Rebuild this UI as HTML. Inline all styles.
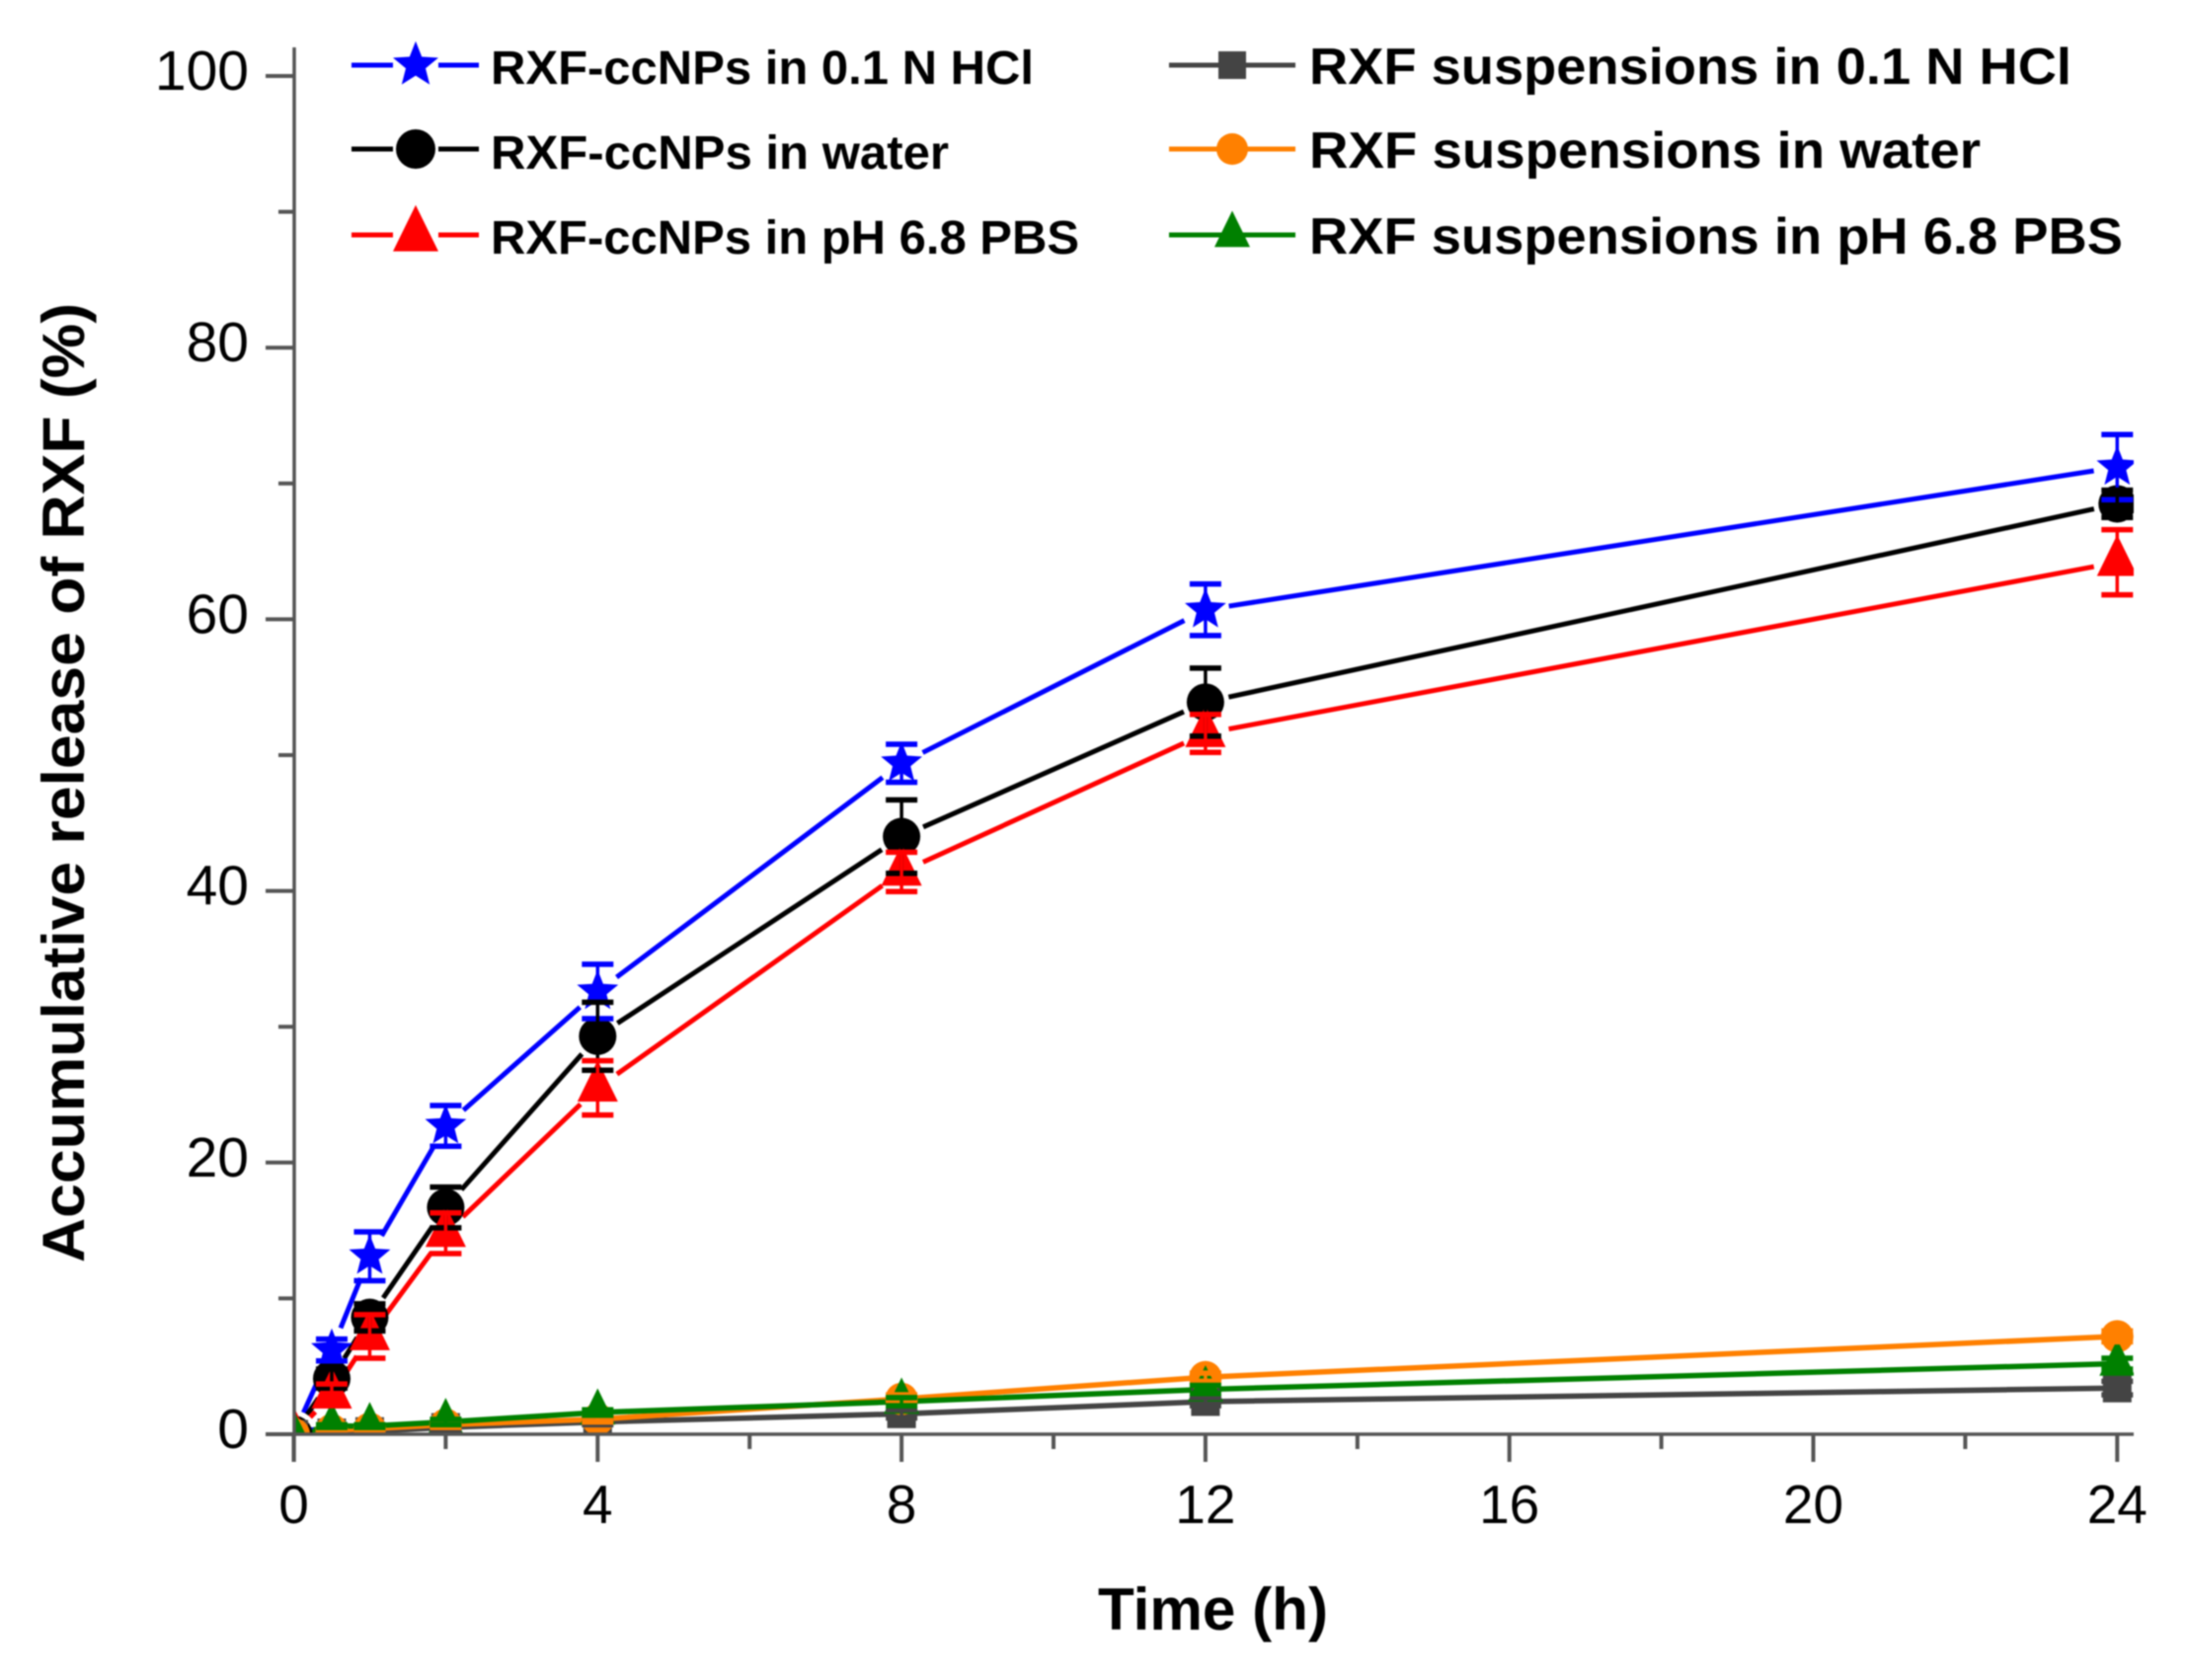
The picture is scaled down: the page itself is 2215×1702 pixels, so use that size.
<!DOCTYPE html>
<html>
<head>
<meta charset="utf-8">
<title>Accumulative release of RXF</title>
<style>
html,body{margin:0;padding:0;background:#fff;width:2215px;height:1702px;overflow:hidden}
svg{display:block;filter:blur(0.7px)}
text{font-family:"Liberation Sans",Arial,sans-serif;fill:#000}
.leg{font-weight:bold}
</style>
</head>
<body>
<svg id="chart" xmlns="http://www.w3.org/2000/svg" width="2215" height="1702" viewBox="0 0 2215 1702">
  <rect x="0" y="0" width="2215" height="1702" fill="#fff"/>
  <defs><clipPath id="plot-clip"><rect x="297" y="30" width="1864" height="1424"/></clipPath></defs>
  <g id="lines" clip-path="url(#plot-clip)"></g>
  <g id="markers" clip-path="url(#plot-clip)"></g>
  <g id="errors" clip-path="url(#plot-clip)"></g>
  <g id="axes"></g>
  <text x="1112" y="1651" font-size="60" font-weight="bold" textLength="233" lengthAdjust="spacingAndGlyphs">Time (h)</text>
  <text transform="translate(85,1279) rotate(-90)" font-size="60" font-weight="bold" textLength="972" lengthAdjust="spacingAndGlyphs">Accumulative release of RXF (%)</text>
  <g>
    <g id="legend-marks"></g>
    <text class="leg" x="497" y="85" font-size="48" textLength="550" lengthAdjust="spacingAndGlyphs">RXF-ccNPs in 0.1 N HCl</text>
    <text class="leg" x="497" y="171" font-size="48" textLength="464" lengthAdjust="spacingAndGlyphs">RXF-ccNPs in water</text>
    <text class="leg" x="497" y="257" font-size="48" textLength="596" lengthAdjust="spacingAndGlyphs">RXF-ccNPs in pH 6.8 PBS</text>
    <text class="leg" x="1326" y="85" font-size="52" textLength="772" lengthAdjust="spacingAndGlyphs">RXF suspensions in 0.1 N HCl</text>
    <text class="leg" x="1326" y="170" font-size="52" textLength="680" lengthAdjust="spacingAndGlyphs">RXF suspensions in water</text>
    <text class="leg" x="1326" y="257" font-size="52" textLength="824" lengthAdjust="spacingAndGlyphs">RXF suspensions in pH 6.8 PBS</text>
  </g>
</svg>
<script>
const times = [0, 0.5, 1, 2, 4, 8, 12, 24];
const ccnpsHcl = [0, 6.2, 13.1, 22.7, 32.6, 49.4, 60.7, 71.2];
const ccnpsHclErr = [0, 0.8, 1.8, 1.5, 2.0, 1.4, 1.9, 2.4];
const ccnpsWater = [0, 4.1, 8.6, 16.7, 29.3, 44.0, 53.9, 68.5];
const ccnpsWaterErr = [0, 0.7, 1.0, 1.5, 2.5, 2.7, 2.5, 1.0];
const ccnpsPbs = [0, 2.9, 7.2, 14.8, 25.5, 41.4, 51.6, 64.2];
const ccnpsPbsErr = [0, 0.8, 1.6, 1.5, 2.0, 1.45, 1.4, 2.4];
const suspHcl = [0, 0.1, 0.2, 0.5, 0.9, 1.5, 2.4, 3.4];
const suspHclErr = [0, 0.1, 0.1, 0.2, 0.2, 0.3, 0.3, 0.5];
const suspWater = [0, 0.3, 0.4, 0.7, 1.1, 2.6, 4.2, 7.2];
const suspWaterErr = [0, 0.1, 0.1, 0.2, 0.2, 0.3, 0.3, 0.4];
const suspPbs = [0, 0.6, 0.6, 0.9, 1.6, 2.4, 3.3, 5.2];
const suspPbsErr = [0, 0.1, 0.1, 0.2, 0.2, 0.3, 0.3, 0.4];
const xMajorTicks = [0, 4, 8, 12, 16, 20, 24];
const xMinorTicks = [2, 6, 10, 14, 18, 22];
const yMajorTicks = [0, 20, 40, 60, 80, 100];
const yMinorTicks = [10, 30, 50, 70, 90];

const NS = 'http://www.w3.org/2000/svg';
const xScale = function (t) { return 297.5 + t * 76.95; };
const yScale = function (v) { return 1453 - v * 13.76; };
function mk(tag, parent, props) {
  const el = document.createElementNS(NS, tag);
  for (const k in props) el.setAttribute(k, props[k]);
  parent.appendChild(el);
  return el;
}
function starPts(cx, cy, R, r) {
  const p = [];
  for (let i = 0; i < 10; i++) {
    const a = -Math.PI / 2 + i * Math.PI / 5;
    const rad = i % 2 ? r : R;
    p.push((cx + rad * Math.cos(a)).toFixed(1) + ',' + (cy + rad * Math.sin(a)).toFixed(1));
  }
  return p.join(' ');
}
function drawMarker(parent, kind, cx, cy, size, color, name) {
  let el;
  if (kind === 'star') {
    el = mk('polygon', parent, { points: starPts(cx, cy, size * 0.55, size * 0.24), fill: color });
  } else if (kind === 'circle') {
    el = mk('ellipse', parent, { cx: cx, cy: cy, rx: size / 2, ry: size / 2, fill: color });
  } else if (kind === 'square') {
    el = mk('rect', parent, { x: cx - size / 2, y: cy - size / 2, width: size, height: size, fill: color });
  } else {
    const h = size * 1.02;
    el = mk('polygon', parent, {
      points: cx + ',' + (cy - h * 2 / 3) + ' ' + (cx - size / 2) + ',' + (cy + h / 3) + ' ' + (cx + size / 2) + ',' + (cy + h / 3),
      fill: color
    });
  }
  
  
}

const seriesList = [
  { id: 'ccnps-hcl', vals: ccnpsHcl, errs: ccnpsHclErr, color: '#0000ff', kind: 'star', size: 40, gap: 24, width: 5 },
  { id: 'ccnps-water', vals: ccnpsWater, errs: ccnpsWaterErr, color: '#000000', kind: 'circle', size: 38, gap: 24, width: 5 },
  { id: 'ccnps-pbs', vals: ccnpsPbs, errs: ccnpsPbsErr, color: '#ff0000', kind: 'triangle', size: 41, gap: 24, width: 5 },
  { id: 'suspension-hcl', vals: suspHcl, errs: suspHclErr, color: '#444444', kind: 'square', size: 29, gap: 0, width: 5.5 },
  { id: 'suspension-water', vals: suspWater, errs: suspWaterErr, color: '#ff8000', kind: 'circle', size: 33, gap: 0, width: 5.5 },
  { id: 'suspension-pbs', vals: suspPbs, errs: suspPbsErr, color: '#008000', kind: 'triangle', size: 36, gap: 0, width: 5.5 }
];

const linesG = document.getElementById('lines');
const markersG = document.getElementById('markers');
const errorsG = document.getElementById('errors');

seriesList.forEach(function (s) {
  for (let i = 0; i < times.length - 1; i++) {
    const x1 = xScale(times[i]), y1 = yScale(s.vals[i]);
    const x2 = xScale(times[i + 1]), y2 = yScale(s.vals[i + 1]);
    const len = Math.hypot(x2 - x1, y2 - y1);
    if (len <= s.gap * 2) continue;
    const ux = (x2 - x1) / len, uy = (y2 - y1) / len;
    const seg = mk('line', linesG, {
      x1: x1 + ux * s.gap, y1: y1 + uy * s.gap,
      x2: x2 - ux * s.gap, y2: y2 - uy * s.gap,
      stroke: s.color, 'stroke-width': s.width
    });
    
    
  }
});

seriesList.forEach(function (s) {
  times.forEach(function (t, i) {
    drawMarker(markersG, s.kind, xScale(t), yScale(s.vals[i]), s.size, s.color, 'marker-' + s.id);
  });
});

seriesList.forEach(function (s) {
  times.forEach(function (t, i) {
    if (!s.errs[i]) return;
    const x = xScale(t);
    const top = yScale(s.vals[i] + s.errs[i]);
    const bot = yScale(s.vals[i] - s.errs[i]);
    const g = mk('g', errorsG, { stroke: s.color });
    
    
    mk('line', g, { x1: x, x2: x, y1: top, y2: bot, 'stroke-width': 3.5 });
    mk('line', g, { x1: x - 16, x2: x + 16, y1: top, y2: top, 'stroke-width': 5.5 });
    mk('line', g, { x1: x - 16, x2: x + 16, y1: bot, y2: bot, 'stroke-width': 5.5 });
  });
});

const axesG = document.getElementById('axes');
const axisColor = '#555555';
const yAxisLine = mk('line', axesG, { x1: 298, x2: 298, y1: 48, y2: 1481, stroke: axisColor, 'stroke-width': 3.5 });


const xAxisLine = mk('line', axesG, { x1: 269, x2: 2161, y1: 1453, y2: 1453, stroke: axisColor, 'stroke-width': 3.5 });



xMajorTicks.forEach(function (t) {
  const tick = mk('line', axesG, { x1: xScale(t), x2: xScale(t), y1: 1453, y2: 1481, stroke: axisColor, 'stroke-width': 4 });
  
  
  const lab = mk('text', axesG, { x: xScale(t), y: 1543, 'font-size': 55, 'text-anchor': 'middle' });
  lab.textContent = String(t);
  
  
});
xMinorTicks.forEach(function (t) {
  const tick = mk('line', axesG, { x1: xScale(t), x2: xScale(t), y1: 1453, y2: 1468, stroke: axisColor, 'stroke-width': 4 });
  
  
});
yMajorTicks.forEach(function (v) {
  const tick = mk('line', axesG, { x1: 269, x2: 298, y1: yScale(v), y2: yScale(v), stroke: axisColor, 'stroke-width': 4 });
  
  
  const lab = mk('text', axesG, { x: 252, y: yScale(v) + 14, 'font-size': 57, 'text-anchor': 'end' });
  lab.textContent = String(v);
  
  
});
yMinorTicks.forEach(function (v) {
  const tick = mk('line', axesG, { x1: 282, x2: 298, y1: yScale(v), y2: yScale(v), stroke: axisColor, 'stroke-width': 4 });
  
  
});

const legendG = document.getElementById('legend-marks');
const legendRows = [
  { x1: 356, x2: 485, y: 66, cx: 421, cy: 66, color: '#0000ff', kind: 'star', size: 44, gap: 23 },
  { x1: 356, x2: 485, y: 151, cx: 421, cy: 151, color: '#000000', kind: 'circle', size: 40, gap: 23 },
  { x1: 356, x2: 485, y: 238, cx: 421, cy: 239, color: '#ff0000', kind: 'triangle', size: 46, gap: 23 },
  { x1: 1184, x2: 1312, y: 66, cx: 1248, cy: 66, color: '#444444', kind: 'square', size: 28, gap: 0 },
  { x1: 1184, x2: 1312, y: 151, cx: 1248, cy: 151, color: '#ff8000', kind: 'circle', size: 32, gap: 0 },
  { x1: 1184, x2: 1312, y: 238, cx: 1248, cy: 238, color: '#008000', kind: 'triangle', size: 36, gap: 0 }
];
legendRows.forEach(function (r) {
  if (r.gap) {
    const a = mk('line', legendG, { x1: r.x1, x2: r.cx - r.gap, y1: r.y, y2: r.y, stroke: r.color, 'stroke-width': 5 });
    
    
    const b = mk('line', legendG, { x1: r.cx + r.gap, x2: r.x2, y1: r.y, y2: r.y, stroke: r.color, 'stroke-width': 5 });
    
    
  } else {
    const c = mk('line', legendG, { x1: r.x1, x2: r.x2, y1: r.y, y2: r.y, stroke: r.color, 'stroke-width': 5 });
    
    
  }
  drawMarker(legendG, r.kind, r.cx, r.cy, r.size, r.color, 'legend-marker');
});
</script>
</body>
</html>
